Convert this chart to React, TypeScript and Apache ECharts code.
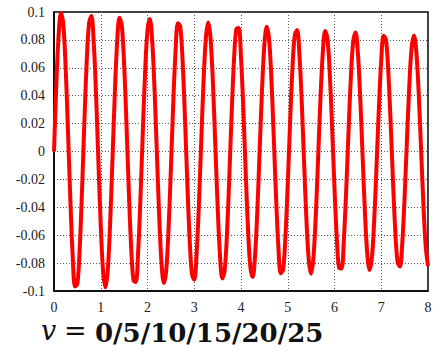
import React, { useEffect, useRef } from "react";
import * as echarts from "echarts";

const step = 0.05;
const yValues: number[] = [
  0, 0.0479, 0.084, 0.0994, 0.0905, 0.0595, 0.014, -0.0348, -0.075, -0.0967,
  -0.0948, -0.0696, -0.0275, 0.0212, 0.0646, 0.0921, 0.0971, 0.0782, 0.0403, -0.0074,
  -0.0531, -0.0858, -0.0974, -0.0852, -0.0521, -0.0064, 0.0407, 0.0778, 0.0958, 0.0903,
  0.0627, 0.0199, -0.0277, -0.0684, -0.0923, -0.0936, -0.0719, -0.0328, 0.0143, 0.0578,
  0.087, 0.0949, 0.0796, 0.0448, -0.0008, -0.0462, -0.0801, -0.0943, -0.0855, -0.0558,
  -0.0125, 0.0338, 0.0717, 0.0919, 0.0896, 0.0655, 0.0253, -0.0209, -0.0619, -0.0877,
  -0.0919, -0.0738, -0.0375, 0.0078, 0.0511, 0.0818, 0.0924, 0.0804, 0.0488, 0.0053,
  -0.0394, -0.0743, -0.091, -0.0854, -0.0589, -0.0181, 0.0271, 0.0655, 0.0878, 0.0886,
  0.0677, 0.0303, -0.0144, -0.0554, -0.0829, -0.09, -0.075, -0.0418, 0.0016, 0.0445,
  0.0764, 0.0895, 0.0808, 0.0523, 0.011, -0.0328, -0.0685, -0.0873, -0.0848, -0.0615,
  -0.0233, 0.0206, 0.0593, 0.0834, 0.0871, 0.0695, 0.0349, -0.0082, -0.0491, -0.0779,
  -0.0876, -0.0759, -0.0456, -0.0043, 0.038, 0.0709, 0.0864, 0.0807, 0.0553, 0.0164,
  -0.0264, -0.0626, -0.0835, -0.0838, -0.0637, -0.028, 0.0144, 0.0532, 0.0789, 0.0853,
  0.0707, 0.039, -0.0023, -0.0428, -0.0729, -0.085, -0.0763, -0.049, -0.0097, 0.0318,
  0.0654, 0.083, 0.0802, 0.0578, 0.0214, -0.0203, -0.0568, -0.0794, -0.0825, -0.0656,
  -0.0324, 0.0085, 0.0472, 0.0742, 0.0831, 0.0716, 0.0426, 0.0033, -0.0368, -0.0677,
  -0.082,
];
const xTicks = [0, 1, 2, 3, 4, 5, 6, 7, 8];
const yTicks = [-0.1, -0.08, -0.06, -0.04, -0.02, 0, 0.02, 0.04, 0.06, 0.08, 0.1];
const captionVar = "v";
const captionEq = "=";
const captionRest = "0/5/10/15/20/25";

export default function App() {
  const ref = useRef<HTMLDivElement>(null);
  useEffect(() => {
    if (!ref.current) return;
    const chart = echarts.init(ref.current, null, { renderer: "svg" });
    const data = yValues.map((y, i) => [+(i * step).toFixed(2), y]);
    const serif = "Liberation Serif";
    chart.setOption({
      animation: false,
      backgroundColor: "#ffffff",
      grid: {
        left: 54,
        right: 14,
        top: 12,
        bottom: 65,
        show: true,
        borderColor: "#000",
        borderWidth: 1.5,
        backgroundColor: "transparent",
      },
      xAxis: {
        type: "value",
        min: xTicks[0],
        max: xTicks[xTicks.length - 1],
        interval: 1,
        axisLine: { show: true, onZero: false, lineStyle: { color: "#000", width: 1.5 } },
        axisTick: { show: false },
        axisLabel: {
          color: "#222",
          fontFamily: serif,
          fontSize: 14,
          margin: 9,
        },
        splitLine: {
          show: true,
          lineStyle: { color: "#555", type: [1, 2], width: 1 },
        },
      },
      yAxis: {
        type: "value",
        min: yTicks[0],
        max: yTicks[yTicks.length - 1],
        interval: 0.02,
        axisLine: { show: true, onZero: false, lineStyle: { color: "#000", width: 1.5 } },
        axisTick: { show: false },
        axisLabel: {
          color: "#222",
          fontFamily: serif,
          fontSize: 14,
          margin: 9,
          formatter: (v: number) => {
            const r = Math.round(v * 100) / 100;
            return String(r);
          },
        },
        splitLine: {
          show: true,
          lineStyle: { color: "#555", type: [1, 2], width: 1 },
        },
      },
      series: [
        {
          type: "line",
          data,
          smooth: 0.35,
          showSymbol: false,
          lineStyle: { color: "#ff0000", width: 4 },
          itemStyle: { color: "#ff0000" },
          z: 3,
        },
        {
          type: "scatter",
          data,
          symbol: "rect",
          symbolSize: 2,
          itemStyle: { color: "#d80000" },
          z: 4,
        },
      ],
      graphic: [
        {
          type: "text",
          left: 41,
          top: 317,
          style: {
            text: captionVar,
            fontFamily: "DejaVu Serif",
            fontStyle: "italic",
            fontSize: 27,
            fill: "#111",
          },
        },
        {
          type: "text",
          left: 64,
          top: 317,
          style: {
            text: captionEq,
            fontFamily: "DejaVu Serif",
            fontSize: 27,
            fill: "#111",
          },
        },
        {
          type: "text",
          left: 95,
          top: 320,
          style: {
            text: captionRest,
            fontFamily: "DejaVu Serif",
            fontWeight: "bold",
            fontSize: 26,
            fill: "#111",
          },
        },
      ],
    });
    return () => chart.dispose();
  }, []);
  return <div ref={ref} style={{ width: 442, height: 356, position: "absolute", left: 0, top: 0 }} />;
}
